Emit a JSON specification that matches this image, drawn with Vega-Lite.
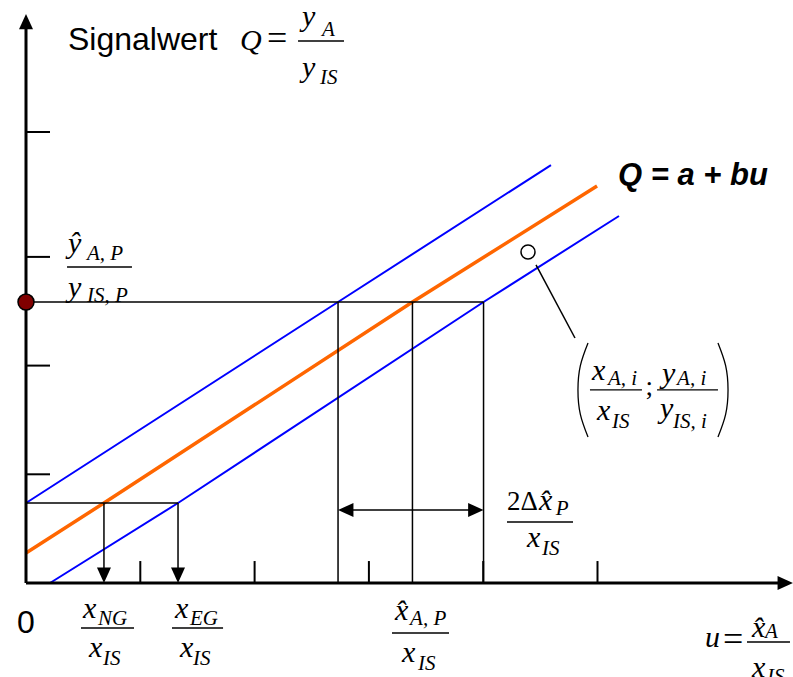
{
  "$schema": "https://vega.github.io/schema/vega-lite/v6.json",
  "width": 793,
  "height": 677,
  "autosize": {"type": "none"},
  "padding": 0,
  "background": "white",
  "config": {"view": {"stroke": null}, "axis": {"disable": true}},
  "datasets": {
    "calibration": [
      {"line": "upper", "i": 0, "u": 0, "q": 0.736},
      {"line": "upper", "i": 1, "u": 2.73, "q": 2.585},
      {"line": "upper", "i": 2, "u": 4.593, "q": 3.845},
      {"line": "fit", "i": 0, "u": 0, "q": 0.276},
      {"line": "fit", "i": 1, "u": 0.682, "q": 0.736},
      {"line": "fit", "i": 2, "u": 3.381, "q": 2.585},
      {"line": "fit", "i": 3, "u": 4.996, "q": 3.652},
      {"line": "lower", "i": 0, "u": 0.21, "q": 0},
      {"line": "lower", "i": 1, "u": 1.33, "q": 0.736},
      {"line": "lower", "i": 2, "u": 4.003, "q": 2.585},
      {"line": "lower", "i": 3, "u": 5.188, "q": 3.376}
    ],
    "axes": [
      {"u": 0, "q": 0, "u2": 6.6, "q2": 0},
      {"u": 0, "q": 0, "u2": 0, "q2": 5.15}
    ],
    "ticks": [
      {"u": 1, "q": 0, "u2": 1, "q2": 0.202},
      {"u": 2, "q": 0, "u2": 2, "q2": 0.202},
      {"u": 3, "q": 0, "u2": 3, "q2": 0.202},
      {"u": 4, "q": 0, "u2": 4, "q2": 0.202},
      {"u": 5, "q": 0, "u2": 5, "q2": 0.202},
      {"u": 0, "q": 1, "u2": 0.21, "q2": 1},
      {"u": 0, "q": 2, "u2": 0.21, "q2": 2},
      {"u": 0, "q": 3, "u2": 0.21, "q2": 3},
      {"u": 0, "q": 4.149, "u2": 0.21, "q2": 4.149}
    ],
    "guides": [
      {"u": 0, "q": 2.585, "u2": 4.003, "q2": 2.585},
      {"u": 2.73, "q": 0, "u2": 2.73, "q2": 2.585},
      {"u": 3.381, "q": 0, "u2": 3.381, "q2": 2.585},
      {"u": 4.003, "q": 0, "u2": 4.003, "q2": 2.585},
      {"u": 0, "q": 0.736, "u2": 1.33, "q2": 0.736},
      {"u": 0.682, "q": 0.06, "u2": 0.682, "q2": 0.736},
      {"u": 1.33, "q": 0.06, "u2": 1.33, "q2": 0.736},
      {"u": 2.76, "q": 0.672, "u2": 3.97, "q2": 0.672},
      {"u": 4.462, "q": 2.926, "u2": 4.803, "q2": 2.254}
    ],
    "fractionBars": [
      {"u": 2.38, "q": 4.986, "u2": 2.782, "q2": 4.986},
      {"u": 0.359, "q": 2.907, "u2": 0.927, "q2": 2.907},
      {"u": 0.481, "q": -0.414, "u2": 0.945, "q2": -0.414},
      {"u": 1.277, "q": -0.414, "u2": 1.724, "q2": -0.414},
      {"u": 4.208, "q": 0.561, "u2": 4.786, "q2": 0.561},
      {"u": 3.202, "q": -0.46, "u2": 3.701, "q2": -0.46},
      {"u": 6.308, "q": -0.543, "u2": 6.684, "q2": -0.543},
      {"u": 4.934, "q": 1.776, "u2": 5.389, "q2": 1.776},
      {"u": 5.521, "q": 1.776, "u2": 6.054, "q2": 1.776}
    ],
    "parens": [
      {"side": "left", "i": 0, "u": 4.917, "q": 2.208},
      {"side": "left", "i": 1, "u": 4.85, "q": 2.0},
      {"side": "left", "i": 2, "u": 4.829, "q": 1.776},
      {"side": "left", "i": 3, "u": 4.85, "q": 1.552},
      {"side": "left", "i": 4, "u": 4.917, "q": 1.343},
      {"side": "right", "i": 0, "u": 6.054, "q": 2.208},
      {"side": "right", "i": 1, "u": 6.121, "q": 2.0},
      {"side": "right", "i": 2, "u": 6.142, "q": 1.776},
      {"side": "right", "i": 3, "u": 6.121, "q": 1.552},
      {"side": "right", "i": 4, "u": 6.054, "q": 1.343}
    ],
    "arrowUp": [{"u": 0, "q": 5.235}],
    "arrowRight": [{"u": 6.71, "q": 0}, {"u": 4.003, "q": 0.672}],
    "arrowLeft": [{"u": 2.73, "q": 0.672}],
    "arrowDown": [{"u": 0.682, "q": 0}, {"u": 1.33, "q": 0}],
    "reading": [{"u": 0, "q": 2.585}],
    "observation": [{"u": 4.392, "q": 3.045}],
    "sansLabels": [
      {"t": "Signalwert", "u": 0.367, "q": 4.903},
      {"t": "0", "u": -0.079, "q": -0.46}
    ],
    "modelLabel": [{"t": "Q = a + bu", "u": 5.179, "q": 3.661}],
    "relations": [
      {"t": "=", "u": 2.108, "q": 4.903},
      {"t": "=", "u": 6.098, "q": -0.626}
    ],
    "mathSymbols": [
      {"t": "Q", "u": 1.872, "q": 4.903},
      {"t": "y", "u": 2.415, "q": 5.124},
      {"t": "y", "u": 2.415, "q": 4.655},
      {"t": "ŷ", "u": 0.367, "q": 3.036},
      {"t": "y", "u": 0.367, "q": 2.631},
      {"t": "x", "u": 0.499, "q": -0.322},
      {"t": "x", "u": 0.551, "q": -0.681},
      {"t": "x", "u": 1.304, "q": -0.322},
      {"t": "x", "u": 1.347, "q": -0.681},
      {"t": "x̂", "u": 4.488, "q": 0.672},
      {"t": "x", "u": 4.383, "q": 0.331},
      {"t": "x̂", "u": 3.228, "q": -0.34},
      {"t": "x", "u": 3.29, "q": -0.727},
      {"t": "u", "u": 5.94, "q": -0.589},
      {"t": "x̂", "u": 6.352, "q": -0.497},
      {"t": "x", "u": 6.352, "q": -0.865},
      {"t": "x", "u": 4.952, "q": 1.868},
      {"t": "x", "u": 4.996, "q": 1.5},
      {"t": "y", "u": 5.564, "q": 1.84},
      {"t": "y", "u": 5.547, "q": 1.518}
    ],
    "mathUpright": [
      {"t": "2Δ", "u": 4.208, "q": 0.672},
      {"t": ";", "u": 5.42, "q": 1.73}
    ],
    "mathSubscripts": [
      {"t": "A", "u": 2.59, "q": 5.032},
      {"t": "IS", "u": 2.572, "q": 4.591},
      {"t": "A, P", "u": 0.534, "q": 2.971},
      {"t": "IS, P", "u": 0.534, "q": 2.585},
      {"t": "NG", "u": 0.63, "q": -0.386},
      {"t": "IS", "u": 0.674, "q": -0.754},
      {"t": "EG", "u": 1.435, "q": -0.386},
      {"t": "IS", "u": 1.461, "q": -0.754},
      {"t": "P", "u": 4.635, "q": 0.626},
      {"t": "IS", "u": 4.514, "q": 0.258},
      {"t": "A, P", "u": 3.36, "q": -0.386},
      {"t": "IS", "u": 3.43, "q": -0.8},
      {"t": "A", "u": 6.466, "q": -0.506},
      {"t": "IS", "u": 6.483, "q": -0.92},
      {"t": "A, i", "u": 5.092, "q": 1.822},
      {"t": "IS", "u": 5.127, "q": 1.426},
      {"t": "A, i", "u": 5.696, "q": 1.822},
      {"t": "IS, i", "u": 5.661, "q": 1.426}
    ]
  },
  "encoding": {
    "x": {"field": "u", "type": "quantitative", "scale": {"domain": [-0.2275, 6.7104], "nice": false, "zero": false}},
    "y": {"field": "q", "type": "quantitative", "scale": {"domain": [-0.8648, 5.3634], "nice": false, "zero": false}}
  },
  "layer": [
    {
      "data": {"name": "calibration"},
      "transform": [{"filter": "datum.line !== 'fit'"}],
      "mark": {"type": "line", "color": "#0000FF", "strokeWidth": 2},
      "encoding": {
        "order": {"field": "i", "type": "quantitative"},
        "detail": {"field": "line", "type": "nominal"}
      }
    },
    {
      "data": {"name": "calibration"},
      "transform": [{"filter": "datum.line === 'fit'"}],
      "mark": {"type": "line", "color": "#FF6600", "strokeWidth": 3.5},
      "encoding": {
        "order": {"field": "i", "type": "quantitative"}
      }
    },
    {
      "data": {"name": "guides"},
      "mark": {"type": "rule", "color": "black", "strokeWidth": 1.5},
      "encoding": {"x2": {"field": "u2"}, "y2": {"field": "q2"}}
    },
    {
      "data": {"name": "fractionBars"},
      "mark": {"type": "rule", "color": "black", "strokeWidth": 1.3},
      "encoding": {"x2": {"field": "u2"}, "y2": {"field": "q2"}}
    },
    {
      "data": {"name": "ticks"},
      "mark": {"type": "rule", "color": "black", "strokeWidth": 2},
      "encoding": {"x2": {"field": "u2"}, "y2": {"field": "q2"}}
    },
    {
      "data": {"name": "axes"},
      "mark": {"type": "rule", "color": "black", "strokeWidth": 3},
      "encoding": {"x2": {"field": "u2"}, "y2": {"field": "q2"}}
    },
    {
      "data": {"name": "parens"},
      "mark": {"type": "line", "interpolate": "natural", "color": "black", "strokeWidth": 1.3},
      "encoding": {
        "order": {"field": "i", "type": "quantitative"},
        "detail": {"field": "side", "type": "nominal"}
      }
    },
    {
      "data": {"name": "arrowUp"},
      "mark": {"type": "point", "shape": "M0,0L-1,2.2L1,2.2Z", "size": 196, "filled": true, "color": "black", "opacity": 1, "strokeWidth": 0}
    },
    {
      "data": {"name": "arrowRight"},
      "mark": {"type": "point", "shape": "M0,0L-2.2,-1L-2.2,1Z", "size": 196, "filled": true, "color": "black", "opacity": 1, "strokeWidth": 0}
    },
    {
      "data": {"name": "arrowLeft"},
      "mark": {"type": "point", "shape": "M0,0L2.2,-1L2.2,1Z", "size": 196, "filled": true, "color": "black", "opacity": 1, "strokeWidth": 0}
    },
    {
      "data": {"name": "arrowDown"},
      "mark": {"type": "point", "shape": "M0,0L-1,-2.2L1,-2.2Z", "size": 196, "filled": true, "color": "black", "opacity": 1, "strokeWidth": 0}
    },
    {
      "data": {"name": "reading"},
      "mark": {"type": "point", "shape": "circle", "size": 256, "filled": true, "fill": "#800000", "stroke": "black", "strokeWidth": 1.5, "opacity": 1}
    },
    {
      "data": {"name": "observation"},
      "mark": {"type": "point", "shape": "circle", "size": 196, "filled": false, "fill": "white", "stroke": "black", "strokeWidth": 1.5, "opacity": 1}
    },
    {
      "data": {"name": "sansLabels"},
      "mark": {"type": "text", "align": "left", "baseline": "alphabetic", "font": "Liberation Sans", "fontSize": 32, "color": "black"},
      "encoding": {"text": {"field": "t"}}
    },
    {
      "data": {"name": "modelLabel"},
      "mark": {"type": "text", "align": "left", "baseline": "alphabetic", "font": "Liberation Sans", "fontSize": 31, "fontWeight": "bold", "fontStyle": "italic", "color": "black"},
      "encoding": {"text": {"field": "t"}}
    },
    {
      "data": {"name": "relations"},
      "mark": {"type": "text", "align": "left", "baseline": "alphabetic", "font": "Liberation Serif", "fontSize": 36, "color": "black"},
      "encoding": {"text": {"field": "t"}}
    },
    {
      "data": {"name": "mathSymbols"},
      "mark": {"type": "text", "align": "left", "baseline": "alphabetic", "font": "Liberation Serif", "fontSize": 30, "fontStyle": "italic", "color": "black"},
      "encoding": {"text": {"field": "t"}}
    },
    {
      "data": {"name": "mathUpright"},
      "mark": {"type": "text", "align": "left", "baseline": "alphabetic", "font": "Liberation Serif", "fontSize": 27, "color": "black"},
      "encoding": {"text": {"field": "t"}}
    },
    {
      "data": {"name": "mathSubscripts"},
      "mark": {"type": "text", "align": "left", "baseline": "alphabetic", "font": "Liberation Serif", "fontSize": 21, "fontStyle": "italic", "color": "black"},
      "encoding": {"text": {"field": "t"}}
    }
  ]
}
